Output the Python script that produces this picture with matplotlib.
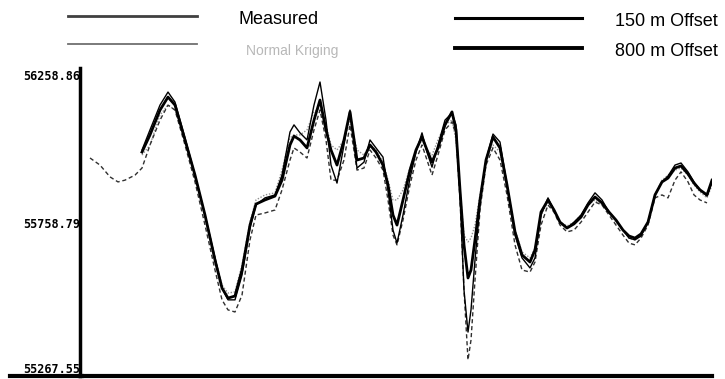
import numpy as np
import matplotlib
matplotlib.use('Agg')
from matplotlib import pyplot as plt
from matplotlib.lines import Line2D
import matplotlib.transforms as mtransforms

# distance along profile (km) for the modelled curves
dist = [6.2, 7.0, 8.0, 8.8, 9.5, 10.5, 11.5, 12.5, 13.5, 14.2, 14.8, 15.5, 16.2, 17.0, 17.6,
        18.5, 19.5, 20.2, 21.0, 21.4, 22.0, 22.7, 23.4, 24.0, 24.6, 25.1, 25.7, 26.4, 27.0,
        27.7, 28.4, 29.0, 29.6, 30.3, 30.8, 31.3, 31.7, 32.3, 33.0, 33.6, 34.2, 34.7, 35.2,
        35.8, 36.5, 37.2, 37.6, 38.0, 38.4, 38.8, 39.1, 39.5, 40.0, 40.6, 41.3, 42.0, 42.7,
        43.5, 44.2, 45.0, 45.5, 46.1, 46.8, 47.4, 48.0, 48.7, 49.4, 50.1, 50.8, 51.5, 52.2,
        52.9, 53.6, 54.3, 54.9, 55.5, 56.1, 56.8, 57.5, 58.2, 58.8, 59.5, 60.1, 60.8, 61.4,
        62.0, 62.7, 63.2]

off800 = [55988, 56046, 56130, 56174, 56147, 56029, 55910, 55775, 55623, 55528, 55494, 55501,
          55589, 55741, 55812, 55826, 55839, 55893, 56012, 56042, 56029, 56002, 56096, 56164,
          56063, 55995, 55944, 56029, 56124, 55961, 55968, 56012, 55988, 55944, 55877, 55775,
          55741, 55826, 55927, 55995, 56039, 55995, 55954, 56002, 56080, 56124, 56063, 55860,
          55674, 55562, 55589, 55691, 55826, 55961, 56039, 56002, 55877, 55718, 55640, 55616,
          55657, 55785, 55826, 55792, 55751, 55731, 55745, 55768, 55809, 55836, 55816, 55785,
          55758, 55724, 55704, 55697, 55711, 55751, 55843, 55887, 55900, 55934, 55941, 55914,
          55883, 55860, 55843, 55893]

off150 = [55995, 56063, 56147, 56191, 56157, 56036, 55910, 55775, 55630, 55528, 55488, 55488,
          55572, 55731, 55809, 55833, 55843, 55910, 56056, 56080, 56053, 56029, 56147, 56225,
          56096, 55944, 55883, 56012, 56130, 55934, 55954, 56029, 56002, 55971, 55860, 55724,
          55680, 55775, 55900, 55988, 56053, 55988, 55937, 56012, 56096, 56120, 56080, 55843,
          55521, 55379, 55454, 55623, 55809, 55961, 56049, 56022, 55877, 55707, 55630, 55596,
          55630, 55775, 55833, 55792, 55751, 55731, 55751, 55775, 55816, 55850, 55826, 55785,
          55758, 55724, 55697, 55691, 55704, 55751, 55843, 55887, 55907, 55944, 55951, 55921,
          55887, 55860, 55839, 55887]

kriging = [55978, 56012, 56113, 56147, 56130, 56029, 55910, 55775, 55630, 55538, 55511, 55515,
           55606, 55751, 55826, 55843, 55850, 55927, 56036, 56046, 56046, 56063, 56124, 56137,
           56080, 56012, 55995, 56029, 56096, 55995, 55978, 56012, 55995, 55954, 55893, 55826,
           55826, 55860, 55934, 55995, 56029, 55995, 55978, 56029, 56080, 56096, 56029, 55860,
           55707, 55684, 55697, 55741, 55843, 55954, 56012, 55988, 55877, 55724, 55650, 55630,
           55663, 55775, 55819, 55792, 55751, 55738, 55751, 55775, 55809, 55826, 55809, 55782,
           55751, 55724, 55697, 55691, 55704, 55751, 55843, 55893, 55910, 55927, 55934, 55910,
           55877, 55853, 55833, 55877]

# measured profile starts earlier and stops a little before the end
dist_meas = [1.0, 2.0, 3.0, 3.8, 4.5, 5.5] + dist[:-1]
measured = [55968, 55944, 55904, 55887, 55893, 55910,
            55934, 56012, 56096, 56147, 56130, 56012, 55887, 55741, 55589, 55488, 55454, 55447,
            55504, 55691, 55775, 55782, 55792, 55860, 55961, 56002, 55988, 55968, 56063, 56130,
            56029, 55893, 55893, 55961, 56080, 55927, 55934, 55995, 55968, 55927, 55826, 55707,
            55674, 55758, 55877, 55961, 56012, 55961, 55910, 55978, 56063, 56090, 56046, 55826,
            55521, 55285, 55352, 55555, 55792, 55944, 56002, 55961, 55843, 55674, 55589, 55582,
            55616, 55741, 55809, 55785, 55741, 55718, 55724, 55751, 55785, 55819, 55809, 55775,
            55741, 55707, 55680, 55674, 55697, 55741, 55833, 55843, 55833, 55893, 55921, 55887,
            55843, 55826, 55816]

ytick_vals = [55267.55, 55758.79, 56258.86]
ytick_labels = ['55267.55', '55758.79', '56258.86']

fig = plt.figure(figsize=(7.25, 3.79), dpi=100)
ax = fig.add_axes([80 / 725, 1 - 376 / 379, 632 / 725, 308 / 379])

ax.plot(dist, kriging, color='#909090', lw=1.0, ls=(0, (1, 1.2)))
ax.plot(dist_meas, measured, color='#303030', lw=1.0, ls=(0, (3, 2)))
ax.plot(dist, off150, color='black', lw=1.0)
ax.plot(dist, off800, color='black', lw=2.0)

ax.set_xlim(0, 63.2)
ax.set_ylim(55230.4, 56272.4)
ax.set_yticks(ytick_vals)
ax.set_yticklabels(ytick_labels, family='DejaVu Sans Mono', fontsize=8.5, fontweight='bold')
ax.tick_params(axis='y', length=0, pad=0)
# labels sit a few pixels below their values in the original
shift = mtransforms.ScaledTranslation(0, -3 / 100, fig.dpi_scale_trans)
for lab in ax.get_yticklabels():
    lab.set_transform(lab.get_transform() + shift)
ax.set_xticks([])
for s in ['top', 'right']:
    ax.spines[s].set_visible(False)
ax.spines['left'].set_linewidth(2.5)
ax.spines['bottom'].set_linewidth(3)

# bottom line runs on under the tick labels
fig.add_artist(Line2D([10 / 725, 82 / 725], [1 - 376 / 379] * 2, color='black', lw=3))

# legend drawn by hand, two rows
fig.add_artist(Line2D([68 / 725, 197 / 725], [1 - 16 / 379] * 2, color='#404040', lw=2.0))
fig.add_artist(Line2D([68 / 725, 197 / 725], [1 - 44 / 379] * 2, color='#707070', lw=1.3))
fig.add_artist(Line2D([455 / 725, 582 / 725], [1 - 18 / 379] * 2, color='black', lw=2.2))
fig.add_artist(Line2D([455 / 725, 582 / 725], [1 - 48 / 379] * 2, color='black', lw=2.8))
fig.text(238 / 725, 1 - 20 / 379, 'Measured', fontsize=13, family='Liberation Sans', va='center')
fig.text(246 / 725, 1 - 51 / 379, 'Normal Kriging', fontsize=10, family='Liberation Sans',
         va='center', color='#b8b8b8')
fig.text(615 / 725, 1 - 22 / 379, '150 m Offset', fontsize=13, family='Liberation Sans', va='center')
fig.text(615 / 725, 1 - 52 / 379, '800 m Offset', fontsize=13, family='Liberation Sans', va='center')

fig.savefig('out.png', dpi=100)
